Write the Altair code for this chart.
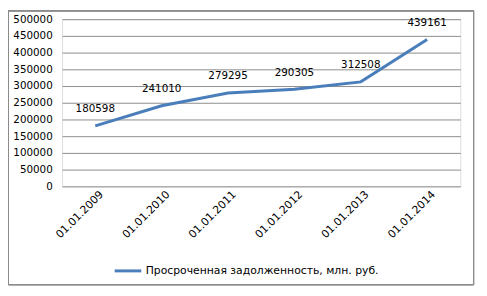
import altair as alt
import pandas as pd

dates = ["01.01.2009", "01.01.2010", "01.01.2011", "01.01.2012", "01.01.2013", "01.01.2014"]
values = [180598, 241010, 279295, 290305, 312508, 439161]
series = "Просроченная задолженность, млн. руб."
y_ticks = [0, 50000, 100000, 150000, 200000, 250000, 300000, 350000, 400000, 450000, 500000]

df = pd.DataFrame({"date": dates, "value": values, "series": [series] * len(dates)})

FONT = "DejaVu Sans"
BLUE = "#4A7EBB"

x = alt.X("date:N", sort=dates, title=None,
          scale=alt.Scale(paddingOuter=0.5, paddingInner=0),
          axis=alt.Axis(labelAngle=-45, labelAlign="right", labelBaseline="top",
                        labelPadding=2, ticks=False, domain=False, grid=False,
                        labelFont=FONT, labelFontSize=11, labelColor="#000000",
                        labelOverlap=False, labelOffset=2))
y = alt.Y("value:Q", title=None,
          scale=alt.Scale(domain=[0, 500000], nice=False),
          axis=alt.Axis(values=y_ticks, ticks=False, domain=False,
                        grid=True, gridColor="#8C8C8C", gridWidth=1,
                        labelFont=FONT, labelFontSize=10.5, labelColor="#000000",
                        labelPadding=10, format="d", labelOverlap=False))

line = alt.Chart(df).mark_line(strokeWidth=3, color=BLUE).encode(
    x=x, y=y,
    color=alt.Color("series:N", scale=alt.Scale(range=[BLUE]), title=None,
                    legend=alt.Legend(orient="none", legendX=52, legendY=241,
                                      symbolType="stroke", symbolSize=729,
                                      symbolStrokeWidth=3, labelFont=FONT,
                                      labelFontSize=11, labelColor="#000000",
                                      labelOffset=3, direction="horizontal",
                                      labelLimit=400)),
)

labels = alt.Chart(df).mark_text(font=FONT, fontSize=10.5, color="#000000", dy=-17).encode(
    x=x, y=y,
    text=alt.Text("value:Q", format="d"),
)

border = alt.Chart(df).mark_rect(fill=None, stroke="#8C8C8C", strokeWidth=1).encode(
    x=alt.value(-54.5), x2=alt.value(418.5), y=alt.value(-8.5), y2=alt.value(270)
)

chart = alt.layer(border, line, labels).properties(
    width=405, height=170,
    autosize=alt.AutoSizeParams(type="none"),
    padding={"left": 55, "top": 9, "right": 19, "bottom": 100},
).configure_view(stroke=None).configure(background="#FFFFFF")

chart.save("out.html", embed_options={"renderer": "svg", "actions": False})
